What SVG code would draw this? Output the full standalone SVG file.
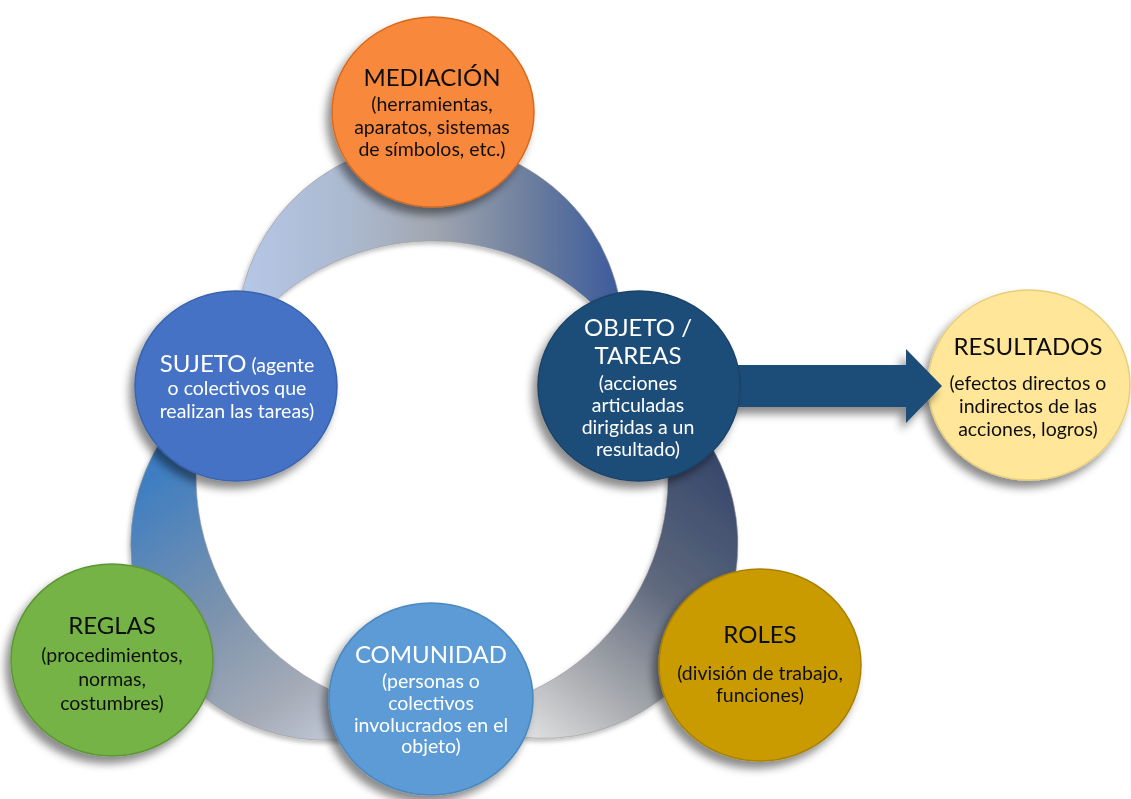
<svg xmlns="http://www.w3.org/2000/svg" width="1131" height="799" viewBox="0 0 1131 799">
<style>
.t{font-family:Lato,"Open Sans",sans-serif;font-size:24px;text-anchor:middle}
.s{font-family:Lato,"Open Sans",sans-serif;font-size:19.5px;text-anchor:middle}
.dk{fill:#111}
.lt{fill:#fff}
.node{filter:url(#sh)}
</style>
<defs>
<filter id="sh" x="-30%" y="-30%" width="160%" height="160%">
<feDropShadow dx="-5" dy="7" stdDeviation="4" flood-color="#000" flood-opacity="0.45"/>
</filter>
<filter id="sh2" x="-20%" y="-20%" width="140%" height="140%">
<feDropShadow dx="-2" dy="3" stdDeviation="2" flood-color="#000" flood-opacity="0.25"/>
</filter>
<linearGradient id="gTop" gradientUnits="userSpaceOnUse" x1="237" y1="0" x2="623" y2="0">
<stop offset="0" stop-color="#B6C8E8"/>
<stop offset="0.3" stop-color="#ABB8CE"/>
<stop offset="0.5" stop-color="#A2A8B2"/>
<stop offset="0.75" stop-color="#6E7F9E"/>
<stop offset="1" stop-color="#3A5A9C"/>
</linearGradient>
<linearGradient id="gRight" gradientUnits="userSpaceOnUse" x1="700" y1="430" x2="470" y2="720">
<stop offset="0" stop-color="#34456A"/>
<stop offset="0.4" stop-color="#5E687C"/>
<stop offset="0.72" stop-color="#ABADB1"/>
<stop offset="1" stop-color="#EEEEEE"/>
</linearGradient>
<linearGradient id="gLeft" gradientUnits="userSpaceOnUse" x1="180" y1="450" x2="380" y2="730">
<stop offset="0" stop-color="#3C7DC2"/>
<stop offset="0.45" stop-color="#7C93AD"/>
<stop offset="0.75" stop-color="#A3AAB6"/>
<stop offset="1" stop-color="#C9D0DE"/>
</linearGradient>
</defs>
<rect width="1131" height="799" fill="#fff"/>
<g id="ring" filter="url(#sh2)" stroke="#9a9a9a" stroke-width="0.6">
<path d="M 237.2,343.8 A 193 193 0 1 1 623.0,338.3 A 236 236 0 0 0 237.2,343.8 Z" fill="url(#gTop)"/>
<path d="M 647.1,380.1 A 194 194 0 0 1 447.1,712.5 A 236 236 0 0 0 647.1,380.1 Z" fill="url(#gRight)"/>
<path d="M 425.2,712.9 A 195 195 0 0 1 214.8,384.8 A 236 236 0 0 0 425.2,712.9 Z" fill="url(#gLeft)"/>
</g>
<g id="resultados" class="node">
<ellipse cx="1029" cy="385" rx="101" ry="95" fill="#FFE699" stroke="#E8CE7A" stroke-width="1.5"/>
<text class="t dk" x="1028" y="355">RESULTADOS</text>
<text class="s dk"><tspan x="1028" y="390">(efectos directos o</tspan><tspan x="1028" y="413">indirectos de las</tspan><tspan x="1028" y="436">acciones, logros)</tspan></text>
</g>
<g id="connectors">
<path d="M 700,365 L 906,365 L 906,349 L 942,386 L 906,423 L 906,407 L 700,407 Z" fill="#1F4E79" filter="url(#sh)"/>
</g>
<g id="mediacion" class="node">
<ellipse cx="433" cy="112" rx="101" ry="95" fill="#F8883B" stroke="#D86A1E" stroke-width="1.5"/>
<text class="t dk" x="432" y="86">MEDIACIÓN</text>
<text class="s dk"><tspan x="432" y="111">(herramientas,</tspan><tspan x="432" y="134">aparatos, sistemas</tspan><tspan x="432" y="156">de símbolos, etc.)</tspan></text>
</g>
<g id="sujeto" class="node">
<ellipse cx="236" cy="386" rx="101" ry="95" fill="#4472C4" stroke="#3A63AD" stroke-width="1.5"/>
<text class="t lt" x="237" y="372">SUJETO<tspan class="s"> (agente</tspan></text>
<text class="s lt"><tspan x="237" y="395">o colectivos que</tspan><tspan x="237" y="418">realizan las tareas)</tspan></text>
</g>
<g id="objeto" class="node">
<ellipse cx="639" cy="386" rx="101" ry="95" fill="#1F4E79" stroke="#1A4268" stroke-width="1.5"/>
<text class="t lt"><tspan x="638" y="336">OBJETO /</tspan><tspan x="638" y="364">TAREAS</tspan></text>
<text class="s lt"><tspan x="638" y="390">(acciones</tspan><tspan x="638" y="412">articuladas</tspan><tspan x="638" y="434">dirigidas a un</tspan><tspan x="638" y="456">resultado)</tspan></text>
</g>
<g id="reglas" class="node">
<ellipse cx="112" cy="660" rx="101" ry="96" fill="#74B347" stroke="#5E9636" stroke-width="1.5"/>
<text class="t dk" x="112" y="634">REGLAS</text>
<text class="s dk"><tspan x="112" y="662">(procedimientos,</tspan><tspan x="112" y="686">normas,</tspan><tspan x="112" y="710">costumbres)</tspan></text>
</g>
<g id="comunidad" class="node">
<ellipse cx="431" cy="699" rx="102" ry="96" fill="#5B9BD5" stroke="#4C88BE" stroke-width="1.5"/>
<text class="t lt" x="431" y="663">COMUNIDAD</text>
<text class="s lt"><tspan x="431" y="688">(personas o</tspan><tspan x="431" y="710">colectivos</tspan><tspan x="431" y="732">involucrados en el</tspan><tspan x="431" y="753">objeto)</tspan></text>
</g>
<g id="roles" class="node">
<ellipse cx="760" cy="665" rx="101" ry="96" fill="#C99B06" stroke="#A98204" stroke-width="1.5"/>
<text class="t dk" x="760" y="643">ROLES</text>
<text class="s dk"><tspan x="760" y="680">(división de trabajo,</tspan><tspan x="760" y="702">funciones)</tspan></text>
</g>
</svg>
